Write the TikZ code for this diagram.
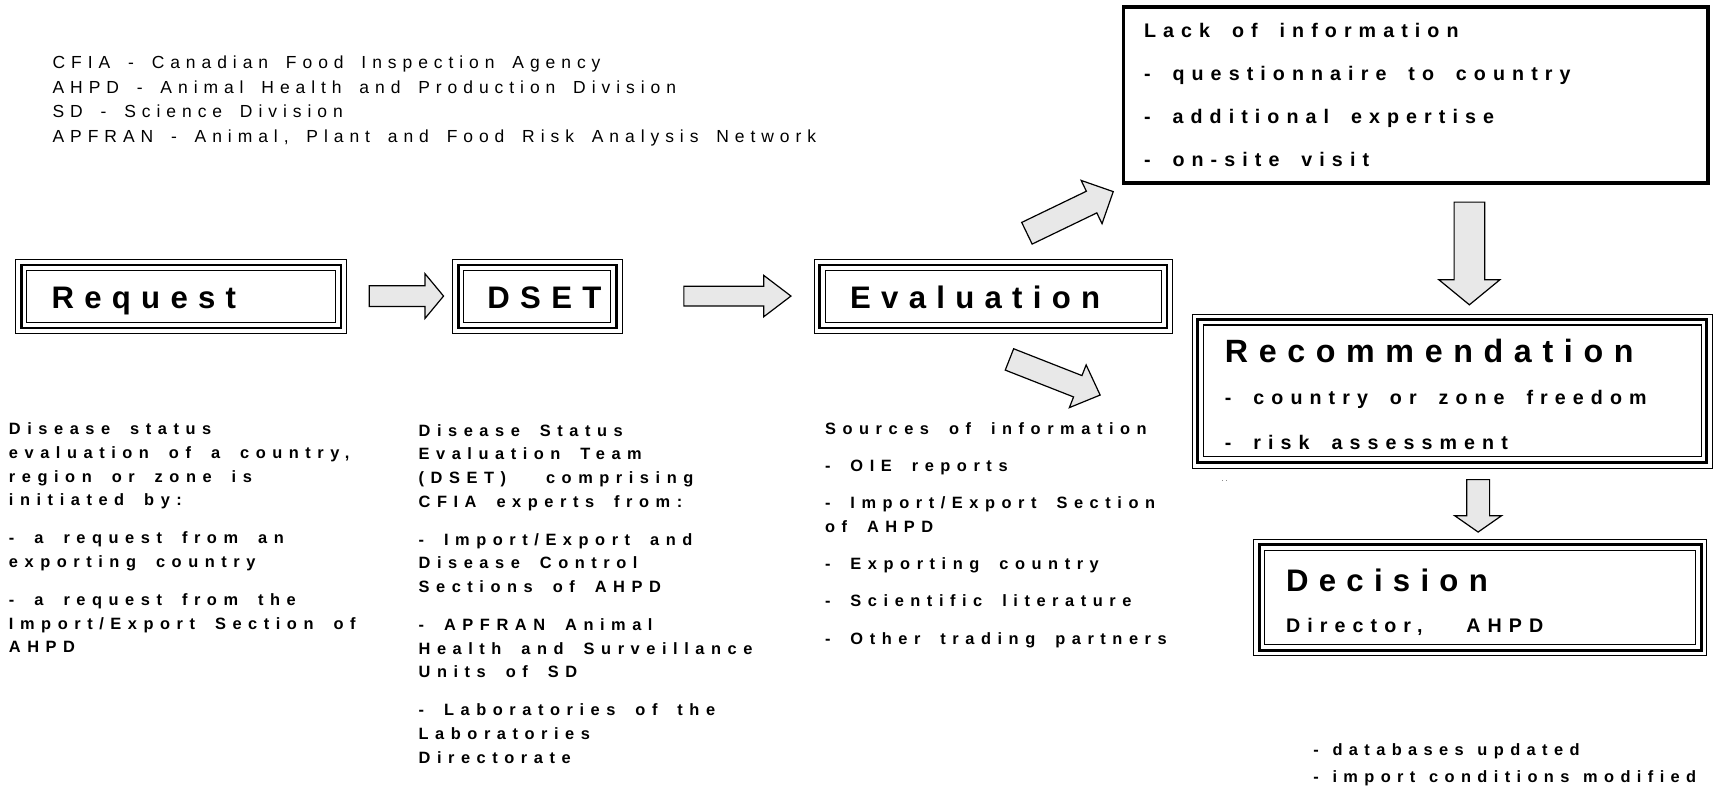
\documentclass[tikz,border=0pt]{standalone}
\usepackage{fontspec}
\setmainfont{Liberation Sans}
\newfontfamily\lgfont[LetterSpace=34,WordSpace=1.65]{Liberation Sans}
\newfontfamily\bdfont[LetterSpace=40,WordSpace=1.8]{Liberation Sans}
\newfontfamily\btfont[LetterSpace=39,WordSpace=1.25]{Liberation Sans}
\newfontfamily\mdfont[LetterSpace=36,WordSpace=1.75]{Liberation Sans}
\newfontfamily\ttlfont[LetterSpace=33]{Liberation Sans}
\usetikzlibrary{calc}
\definecolor{arrowgray}{HTML}{E8E8E8}
\tikzset{
  box/.style={draw, line width=0.7pt, inner sep=0pt, anchor=north west},
  barrowstyle/.style={draw, fill=arrowgray, line width=1.1pt, line join=miter},
  lbl/.style={anchor=base west, inner sep=0pt, align=left},
  legendtxt/.style={lbl, font={\lgfont\fontsize{16}{22.3}\selectfont}},
  bodytxt/.style={lbl, font={\bdfont\bfseries\fontsize{15}{21.7}\selectfont}},
  midtxt/.style={lbl, font={\mdfont\bfseries\fontsize{18}{39.3}\selectfont}},
  titletxt/.style={lbl, font={\ttlfont\bfseries\fontsize{28.5}{30}\selectfont}},
}
\newcommand\triframe[1]{%
  \draw[line width=2.6pt] ([shift={(5.5,5.5)}]#1.north west) rectangle ([shift={(-5.5,-5.5)}]#1.south east);
  \draw[line width=1pt] ([shift={(10.5,10.5)}]#1.north west) rectangle ([shift={(-10.5,-10.5)}]#1.south east);
}
\newcommand\blockarrow[5]{% tail, tip, half shaft, half head, head length
  \coordinate (hb) at ($(#2)!#5!(#1)$);
  \draw[barrowstyle] ($(#1)!#3!90:(#2)$) -- ($(hb)!#3!90:(#2)$) -- ($(hb)!#4!90:(#2)$)
    -- (#2) -- ($(hb)!#4!-90:(#2)$) -- ($(hb)!#3!-90:(#2)$) -- ($(#1)!#3!-90:(#2)$) -- cycle;
}
\begin{document}
\begin{tikzpicture}[x=1pt,y=-1pt]
\useasboundingbox (0,0) rectangle (1568,724);

% legend (anchored at the baseline of its last line)
\node[legendtxt] (legend) at (48,130) {CFIA - Canadian Food Inspection Agency\\AHPD - Animal Health and Production Division\\SD - Science Division\\APFRAN - Animal, Plant and Food Risk Analysis Network};

% main boxes
\node[box, minimum width=303pt, minimum height=68pt] (req) at (14,237) {};
\triframe{req}
\node[titletxt] (reqt) at (47,282) {Request};

\node[box, minimum width=155pt, minimum height=68pt] (dset) at (414,237) {};
\triframe{dset}
\node[titletxt] (dsett) at (446,282) {DSET};

\node[box, minimum width=328pt, minimum height=68pt] (eval) at (745,237) {};
\triframe{eval}
\node[titletxt] (evalt) at (778,282) {Evaluation};

\node[draw, line width=3pt, inner sep=0pt, anchor=north west, minimum width=535pt, minimum height=161pt] (lack) at (1027,5) {};
\node[midtxt] (lackt) at (1047,152) {Lack of information\\- questionnaire to country\\- additional expertise\\- on-site visit};

\node[box, minimum width=476pt, minimum height=141pt] (rec) at (1091,287) {};
\triframe{rec}
\node[titletxt, font={\ttlfont\bfseries\fontsize{29.5}{30}\selectfont}] (rect) at (1121,332) {Recommendation};
\node[lbl, font={\mdfont\bfseries\fontsize{18}{41}\selectfont}] (recl) at (1121,411) {- country or zone freedom\\- risk assessment};
\node[inner sep=0pt, font=\fontsize{6}{6}\selectfont] (dots) at (1121,440) {. .};

\node[box, minimum width=415pt, minimum height=107pt] (dec) at (1147,493) {};
\triframe{dec}
\node[titletxt] (dect) at (1177,541) {Decision};
\node[midtxt] (decl) at (1177,579) {Director, \ AHPD};

% description columns (anchored at the baseline of their last line)
\node[bodytxt] (reqd) at (8,597.5) {Disease status\\evaluation of a country,\\region or zone is\\initiated by:\\[13pt]- a request from an\\exporting country\\[13pt]- a request from the\\Import/Export Section of\\AHPD};
\node[bodytxt] (dsetd) at (383,698.5) {Disease Status\\Evaluation Team\\(DSET) \ comprising\\CFIA experts from:\\[13pt]- Import/Export and\\Disease Control\\Sections of AHPD\\[13pt]- APFRAN Animal\\Health and Surveillance\\Units of SD\\[13pt]- Laboratories of the\\Laboratories\\Directorate};
\node[bodytxt] (evald) at (755,589.5) {Sources of information\\[12.3pt]- OIE reports\\[12.3pt]- Import/Export Section\\of AHPD\\[12.3pt]- Exporting country\\[12.3pt]- Scientific literature\\[12.3pt]- Other trading partners};
\node[lbl, font={\btfont\bfseries\fontsize{15}{25}\selectfont}] (outc) at (1202,716.5) {- databases updated\\- import conditions modified};

% block arrows
\coordinate (a1s) at (338,271); \coordinate (a1e) at (406,271);
\blockarrow{a1s}{a1e}{9.5pt}{20.5pt}{17pt}
\coordinate (a2s) at (626,271); \coordinate (a2e) at (724,271);
\blockarrow{a2s}{a2e}{9pt}{19pt}{25pt}
\coordinate (a3s) at (940,213.5); \coordinate (a3e) at (1019,175.4);
\blockarrow{a3s}{a3e}{11pt}{22pt}{22pt}
\coordinate (a4s) at (924,329); \coordinate (a4e) at (1007,361.6);
\blockarrow{a4s}{a4e}{10.5pt}{21pt}{22pt}
\coordinate (a5s) at (1345,185); \coordinate (a5e) at (1345,279);
\blockarrow{a5s}{a5e}{14pt}{28pt}{23pt}
\coordinate (a6s) at (1353,439); \coordinate (a6e) at (1353,487);
\blockarrow{a6s}{a6e}{10.5pt}{21.5pt}{15pt}
\end{tikzpicture}
\end{document}
